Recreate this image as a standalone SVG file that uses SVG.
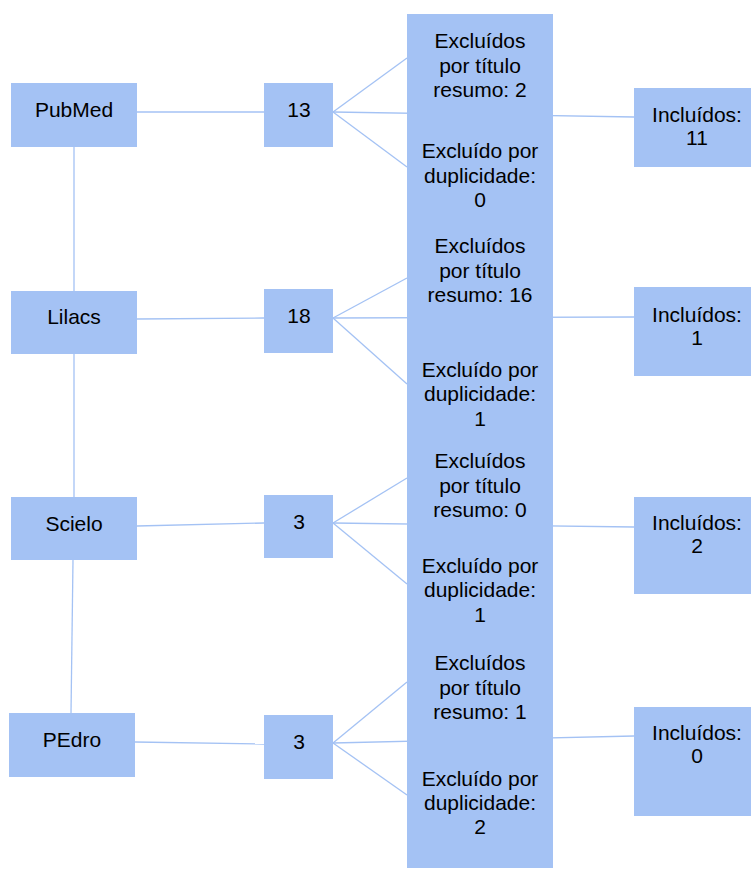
<svg xmlns="http://www.w3.org/2000/svg" width="751" height="869" viewBox="0 0 751 869">
<style>
.box{fill:#a4c2f4;stroke:none}
.t{font-family:"Liberation Sans",Arial,sans-serif;font-size:21px;fill:#000;text-anchor:middle}
.c{stroke:#a4c2f4;stroke-width:1.3;fill:none}
</style>
<rect width="751" height="869" fill="#fff"/>
<g id="connectors">
<line class="c" x1="74" y1="147" x2="74" y2="291"/>
<line class="c" x1="74" y1="354" x2="74" y2="497"/>
<line class="c" x1="73" y1="560" x2="71" y2="713"/>
<line class="c" x1="137" y1="112" x2="264" y2="112"/>
<line class="c" x1="137" y1="319" x2="264" y2="318"/>
<line class="c" x1="137" y1="526" x2="264" y2="523"/>
<line class="c" x1="135" y1="742" x2="264" y2="744"/>
<line class="c" x1="333" y1="112" x2="407" y2="58"/>
<line class="c" x1="333" y1="112" x2="634" y2="117"/>
<line class="c" x1="333" y1="112" x2="407" y2="167"/>
<line class="c" x1="333" y1="318" x2="407" y2="278"/>
<line class="c" x1="333" y1="318" x2="634" y2="317"/>
<line class="c" x1="333" y1="318" x2="407" y2="384"/>
<line class="c" x1="333" y1="523" x2="407" y2="478"/>
<line class="c" x1="333" y1="523" x2="634" y2="527"/>
<line class="c" x1="333" y1="523" x2="407" y2="584"/>
<line class="c" x1="333" y1="743" x2="407" y2="682"/>
<line class="c" x1="333" y1="743" x2="634" y2="736"/>
<line class="c" x1="333" y1="743" x2="407" y2="795"/>
</g>
<g id="pubmed"><rect class="box" x="11" y="83" width="126" height="64"/><text class="t" x="74" y="117">PubMed</text></g>
<g id="lilacs"><rect class="box" x="11" y="291" width="126" height="63"/><text class="t" x="74" y="324">Lilacs</text></g>
<g id="scielo"><rect class="box" x="11" y="497" width="126" height="63"/><text class="t" x="74" y="531">Scielo</text></g>
<g id="pedro"><rect class="box" x="9" y="713" width="126" height="64"/><text class="t" x="72" y="747">PEdro</text></g>
<g id="n13"><rect class="box" x="264" y="83" width="69" height="64"/><text class="t" x="299" y="117">13</text></g>
<g id="n18"><rect class="box" x="264" y="289" width="69" height="64"/><text class="t" x="299" y="323">18</text></g>
<g id="n3a"><rect class="box" x="264" y="495" width="69" height="63"/><text class="t" x="299" y="529">3</text></g>
<g id="n3b"><rect class="box" x="264" y="715" width="69" height="64"/><text class="t" x="299" y="749">3</text></g>
<g id="exc1"><rect class="box" x="407" y="14" width="146" height="100"/><text class="t" x="480" y="48">Excluídos</text><text class="t" x="480" y="73">por título</text><text class="t" x="480" y="97">resumo: 2</text></g>
<g id="dup1"><rect class="box" x="407" y="113" width="146" height="113"/><text class="t" x="480" y="158">Excluído por</text><text class="t" x="480" y="183">duplicidade:</text><text class="t" x="480" y="207">0</text></g>
<g id="exc2"><rect class="box" x="407" y="225" width="146" height="94"/><text class="t" x="480" y="253">Excluídos</text><text class="t" x="480" y="278">por título</text><text class="t" x="480" y="302">resumo: 16</text></g>
<g id="dup2"><rect class="box" x="407" y="318" width="146" height="123"/><text class="t" x="480" y="377">Excluído por</text><text class="t" x="480" y="401">duplicidade:</text><text class="t" x="480" y="426">1</text></g>
<g id="exc3"><rect class="box" x="407" y="440" width="146" height="85"/><text class="t" x="480" y="468">Excluídos</text><text class="t" x="480" y="493">por título</text><text class="t" x="480" y="517">resumo: 0</text></g>
<g id="dup3"><rect class="box" x="407" y="524" width="146" height="117"/><text class="t" x="480" y="573">Excluído por</text><text class="t" x="480" y="597">duplicidade:</text><text class="t" x="480" y="622">1</text></g>
<g id="exc4"><rect class="box" x="407" y="640" width="146" height="102"/><text class="t" x="480" y="670">Excluídos</text><text class="t" x="480" y="695">por título</text><text class="t" x="480" y="719">resumo: 1</text></g>
<g id="dup4"><rect class="box" x="407" y="741" width="146" height="127"/><text class="t" x="480" y="786">Excluído por</text><text class="t" x="480" y="810">duplicidade:</text><text class="t" x="480" y="834">2</text></g>
<g id="inc1"><rect class="box" x="634" y="88" width="126" height="79"/><text class="t" x="697" y="122">Incluídos:</text><text class="t" x="697" y="145">11</text></g>
<g id="inc2"><rect class="box" x="634" y="287" width="126" height="89"/><text class="t" x="697" y="322">Incluídos:</text><text class="t" x="697" y="345">1</text></g>
<g id="inc3"><rect class="box" x="634" y="497" width="126" height="97"/><text class="t" x="697" y="530">Incluídos:</text><text class="t" x="697" y="553">2</text></g>
<g id="inc4"><rect class="box" x="634" y="707" width="126" height="109"/><text class="t" x="697" y="740">Incluídos:</text><text class="t" x="697" y="763">0</text></g>
</svg>
